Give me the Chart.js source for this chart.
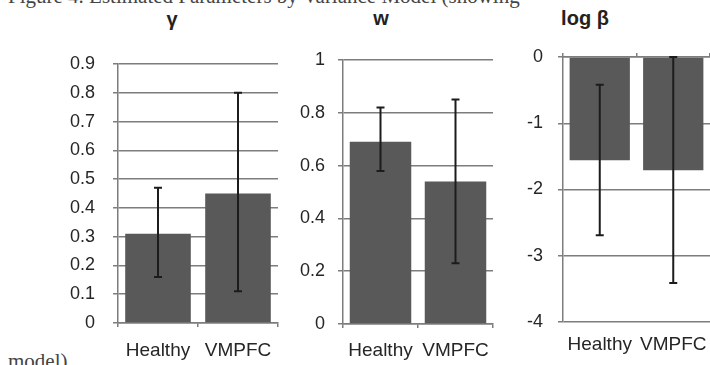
<!DOCTYPE html>
<html>
<head>
<meta charset="utf-8">
<script src="https://cdn.jsdelivr.net/npm/chart.js@4.4.1/dist/chart.umd.min.js"></script>
<style>
  body { margin: 0; background: #fff; }
  #wrap { position: relative; width: 710px; height: 365px; overflow: hidden; background: #fff; }
  .panel { position: absolute; top: 0; }
  .ttl { position: absolute; width: 100px; text-align: center; font: bold 20px 'Liberation Sans', Arial, sans-serif; line-height: 20px; color: #222; }
  .serif { position: absolute; font: 21px 'Liberation Serif', 'Times New Roman', serif; color: #444; white-space: nowrap; line-height: 21px; }
</style>
</head>
<body>
<div id="wrap">
  <div class="serif" style="left:8px; top:-14px;">Figure 4. Estimated Parameters by Variance Model (showing</div>
  <div class="serif" style="left:8px; top:351px;">model)</div>
  <div class="ttl" style="left:122px; top:9px;">γ</div>
  <div class="ttl" style="left:331px; top:8px;">w</div>
  <div class="ttl" style="left:535px; top:8px;">log β</div>
  <canvas id="gamma" class="panel" style="left:40px" width="245" height="365"></canvas>
  <canvas id="w" class="panel" style="left:290px" width="210" height="365"></canvas>
  <canvas id="beta" class="panel" style="left:510px" width="200" height="365"></canvas>
</div>
<script>
// values
const categories = ['Healthy', 'VMPFC'];

const gammaMean = [0.31, 0.45];
const gammaLow = [0.16, 0.11];
const gammaHigh = [0.47, 0.80];

const wMean = [0.69, 0.54];
const wLow = [0.58, 0.23];
const wHigh = [0.82, 0.85];

const logBetaMean = [-1.56, -1.71];
const logBetaLow = [-2.69, -3.41];
const logBetaHigh = [-0.42, 0.0];

const BAR = '#595959';
const GRID = '#7d7d7d';
const TEXT = '#262626';

Chart.defaults.font.family = "'Liberation Sans', Arial, sans-serif";
Chart.defaults.color = TEXT;

// draws the whiskers with small caps on top of the bars
function errorBars(low, high) {
    return {
        id: 'errorBars',
        afterDatasetsDraw(chart) {
            const ctx = chart.ctx;
            const y = chart.scales.y;
            ctx.save();
            ctx.strokeStyle = '#1c1c1c';
            ctx.lineWidth = 2;
            chart.getDatasetMeta(0).data.forEach((bar, i) => {
                const top = y.getPixelForValue(high[i]);
                const bot = y.getPixelForValue(low[i]);
                ctx.beginPath();
                ctx.moveTo(bar.x, top); ctx.lineTo(bar.x, bot);
                ctx.moveTo(bar.x - 4, top); ctx.lineTo(bar.x + 4, top);
                ctx.moveTo(bar.x - 4, bot); ctx.lineTo(bar.x + 4, bot);
                ctx.stroke();
            });
            ctx.restore();
        }
    };
}

function makePanel(id, cfg) {
    const scales = {
        x: {
            position: 'bottom',
            grid: cfg.flipAxis
                ? { display: false, drawTicks: false }
                : { drawOnChartArea: false, offset: true, tickLength: 4, color: GRID, lineWidth: 1.5 },
            border: cfg.flipAxis ? { display: false } : { color: GRID, width: 1.5 },
            ticks: { font: { size: 19 }, padding: cfg.labelPad, maxRotation: 0, autoSkip: false },
            afterFit: s => {
                s.height = cfg.xHeight;
                // let the labels hang over the edges instead of shrinking the plot
                s.paddingLeft = 0;
                s.paddingRight = 0;
            }
        },
        y: {
            min: cfg.min, max: cfg.max,
            grid: { color: GRID, lineWidth: 1.5, tickLength: 5 },
            border: { color: GRID, width: 1.5 },
            ticks: {
                stepSize: cfg.step, font: { size: 18 }, padding: cfg.tickPad,
                callback: v => String(Math.round(v * 10) / 10)
            },
            afterFit: s => { s.width = cfg.yWidth; }
        }
    };
    if (cfg.flipAxis) {
        // the category axis sits at zero, on top of the plot
        scales.x2 = {
            type: 'category', labels: categories, position: 'top',
            grid: { drawOnChartArea: false, offset: true, tickLength: 4, color: GRID, lineWidth: 1.5 },
            border: { color: GRID, width: 1.5 },
            ticks: { display: false },
            afterFit: s => { s.height = 4; s.paddingLeft = 0; s.paddingRight = 0; }
        };
    }
    new Chart(document.getElementById(id), {
        type: 'bar',
        data: {
            labels: categories,
            datasets: [{
                data: cfg.mean,
                backgroundColor: BAR,
                borderWidth: 0,
                barPercentage: 0.82,
                categoryPercentage: 1
            }]
        },
        options: {
            responsive: false,
            animation: false,
            layout: { padding: { top: cfg.top, right: cfg.right, bottom: 0, left: 0 } },
            plugins: { legend: { display: false }, tooltip: { enabled: false } },
            scales
        },
        plugins: [errorBars(cfg.low, cfg.high)]
    });
}

makePanel('gamma', {
    mean: gammaMean, low: gammaLow, high: gammaHigh,
    min: 0, max: 0.9, step: 0.1,
    top: 64, right: 7, yWidth: 78, xHeight: 42, tickPad: 18, labelPad: 12
});

makePanel('w', {
    mean: wMean, low: wLow, high: wHigh,
    min: 0, max: 1, step: 0.2,
    top: 60, right: 7, yWidth: 53, xHeight: 41, tickPad: 13, labelPad: 11
});

makePanel('beta', {
    mean: logBetaMean, low: logBetaLow, high: logBetaHigh,
    min: -4, max: 0, step: 1, flipAxis: true,
    top: 53, right: 0, yWidth: 53, xHeight: 43, tickPad: 15, labelPad: 11
});
</script>
</body>
</html>
